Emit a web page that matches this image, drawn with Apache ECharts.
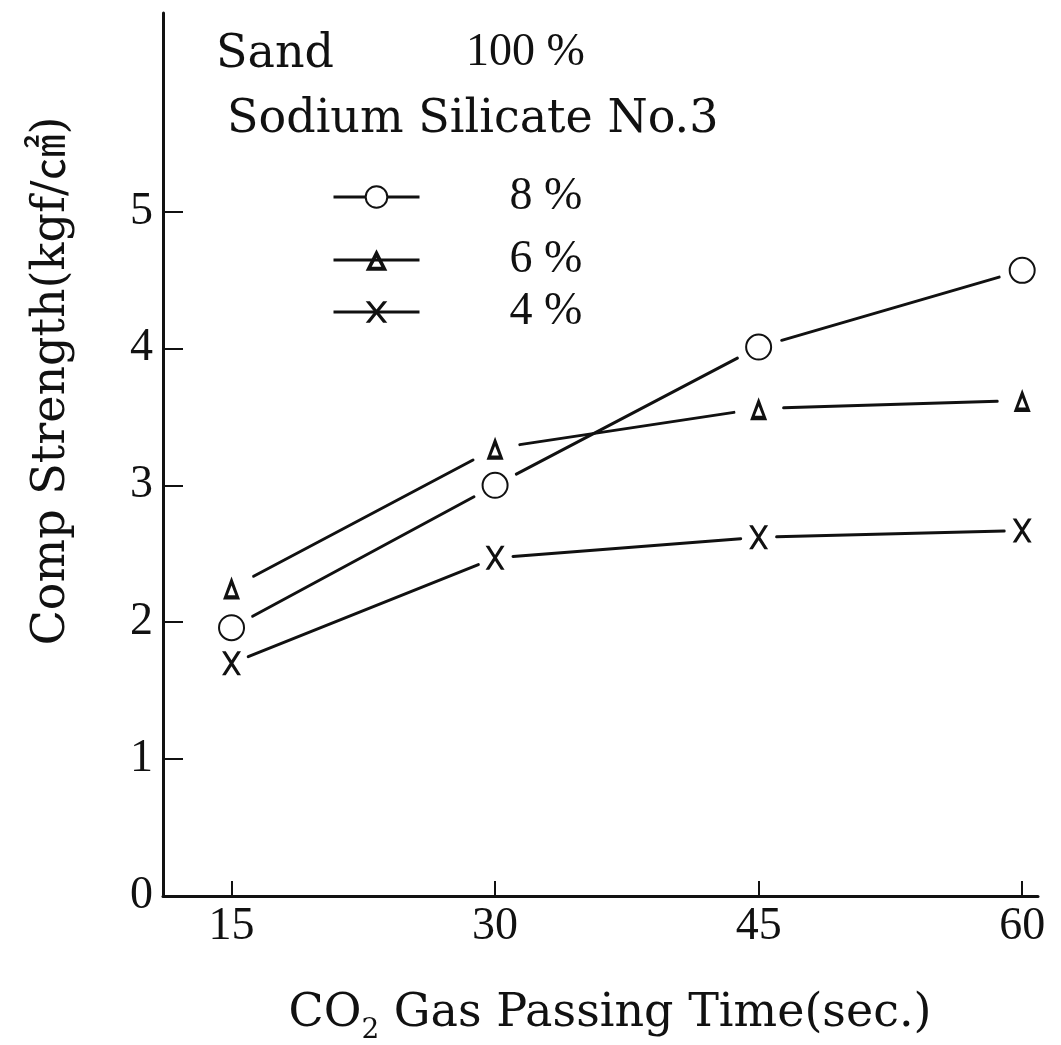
<!DOCTYPE html>
<html lang="en">
<head>
<meta charset="UTF-8">
<title>Comp Strength vs CO2 Gas Passing Time</title>
<script src="https://cdn.jsdelivr.net/npm/echarts@6/dist/echarts.min.js"></script>
<style>
  html, body { margin: 0; padding: 0; background: #fff; }
  #container { width: 1061px; height: 1045px; }
</style>
</head>
<body>
<div id="container"></div>
<script type="text/javascript">
    // data
    var times = [15, 30, 45, 60];
    var silicate8 = [1.96, 3.00, 4.01, 4.57];
    var silicate6 = [2.25, 3.27, 3.56, 3.62];
    var silicate4 = [1.70, 2.47, 2.62, 2.67];
    var seriesNames = ['8 %', '6 %', '4 %'];
    var xTicks = [15, 30, 45, 60];
    var yTicks = [0, 1, 2, 3, 4, 5];

    var INK = '#111';
    var wordFont = '46px "DejaVu Serif", "Noto Sans CJK JP", serif';
    var numFont = '46px "Liberation Serif", serif';

    // X and thick-outlined triangle drawn as filled polygons
    var crossPath = 'path://M0,0L3.5,0L9,9.1L14.5,0L18,0L10.75,12L18,24L14.5,24L9,14.9L3.5,24L0,24L7.25,12Z';
    var trianglePath = 'path://M9,0L18,24L0,24Z M9,9.5L5,19.5L13,19.5Z';

    var markers = [
        { symbol: 'emptyCircle', symbolSize: 25, itemStyle: { color: INK, borderColor: INK, borderWidth: 3 } },
        { symbol: trianglePath, symbolSize: [17, 23], itemStyle: { color: INK, borderWidth: 0 } },
        { symbol: crossPath, symbolSize: [19, 24], itemStyle: { color: INK, borderWidth: 0 } }
    ];
    // the connecting lines stop short of each marker
    var gapRadius = [24, 25, 18];
    var legendRowY = [197, 260, 312];

    function pairs(vals) {
        return times.map(function (t, i) { return [t, vals[i]]; });
    }
    var allData = [silicate8, silicate6, silicate4];

    // one segment from each point to the next, trimmed at both ends
    function segmentRenderer(vals, gap) {
        return function (params, api) {
            var i = params.dataIndex;
            if (i >= vals.length - 1) return null;
            var a = api.coord([times[i], vals[i]]);
            var b = api.coord([times[i + 1], vals[i + 1]]);
            var dx = b[0] - a[0], dy = b[1] - a[1];
            var len = Math.sqrt(dx * dx + dy * dy);
            var ux = dx / len, uy = dy / len;
            return {
                type: 'line',
                shape: { x1: a[0] + ux * gap, y1: a[1] + uy * gap, x2: b[0] - ux * gap, y2: b[1] - uy * gap },
                style: { stroke: INK, lineWidth: 3, lineCap: 'round' }
            };
        };
    }

    var series = [];
    allData.forEach(function (vals, i) {
        var m = markers[i];
        // markers only; the legend takes its icon from this one
        series.push({
            name: seriesNames[i], type: 'line', data: pairs(vals), z: 3,
            symbol: m.symbol, symbolSize: m.symbolSize, itemStyle: m.itemStyle,
            lineStyle: { color: INK, width: 0, opacity: 0 }, animation: false, silent: true
        });
        series.push({
            name: seriesNames[i] + ' line', type: 'custom', data: pairs(vals), z: 2,
            renderItem: segmentRenderer(vals, gapRadius[i]),
            animation: false, silent: true
        });
    });

    var dom = document.getElementById('container');
    var myChart = echarts.init(dom, null, { renderer: 'canvas' });

    var option = {
        backgroundColor: '#fff',
        animation: false,
        grid: { left: 163, right: 23, top: 13, bottom: 149, containLabel: false, outerBoundsMode: 'none' },
        xAxis: {
            type: 'value', min: 11.1, max: 60.9,
            axisLine: { show: true, lineStyle: { color: INK, width: 3 } },
            axisTick: { show: true, inside: true, length: 15, customValues: xTicks, lineStyle: { color: INK, width: 2 } },
            axisLabel: { customValues: xTicks, margin: 8, color: INK, fontFamily: 'Liberation Serif', fontSize: 46 },
            splitLine: { show: false }
        },
        yAxis: {
            type: 'value', min: 0, max: 6.45,
            axisLine: { show: true, lineStyle: { color: INK, width: 3 } },
            axisTick: { show: true, inside: true, length: 20, customValues: yTicks, lineStyle: { color: INK, width: 2 } },
            axisLabel: { customValues: yTicks, margin: 10, color: INK, fontFamily: 'Liberation Serif', fontSize: 46 },
            splitLine: { show: false }
        },
        legend: seriesNames.map(function (n, i) {
            return {
                data: [n], left: 332, top: legendRowY[i] - 23, orient: 'vertical', padding: 0,
                itemWidth: 86, itemHeight: 27, selectedMode: false,
                lineStyle: { color: INK, width: 3, opacity: 1 },
                textStyle: { fontFamily: 'Liberation Serif', fontSize: 46, lineHeight: 46, color: INK, padding: [0, 0, 0, 85] }
            };
        }),
        graphic: [
            { type: 'text', x: 216, y: 55, style: { text: 'Sand', font: wordFont, fill: INK, verticalAlign: 'middle', textVerticalAlign: 'middle' } },
            { type: 'text', x: 466, y: 53, style: { text: '100 %', font: numFont, fill: INK, verticalAlign: 'middle', textVerticalAlign: 'middle' } },
            { type: 'text', x: 227, y: 120, style: { text: 'Sodium Silicate No.3', font: wordFont, fill: INK, verticalAlign: 'middle', textVerticalAlign: 'middle' } },
            {
                type: 'text', x: 52, y: 381, rotation: Math.PI / 2,
                style: { text: 'Comp Strength(kgf/㎠)', font: wordFont, fill: INK, align: 'center', textAlign: 'center', verticalAlign: 'middle', textVerticalAlign: 'middle' }
            },
            {
                type: 'text', x: 610, y: 1014,
                style: {
                    text: '{a|CO}{b|2}{a| Gas Passing Time(sec.)}', fill: INK,
                    align: 'center', textAlign: 'center', verticalAlign: 'middle', textVerticalAlign: 'middle',
                    rich: {
                        a: { fontFamily: '"DejaVu Serif", serif', fontSize: 46, lineHeight: 62, color: INK },
                        b: { fontFamily: '"DejaVu Serif", serif', fontSize: 28, lineHeight: 28, verticalAlign: 'bottom', color: INK }
                    }
                }
            }
        ],
        series: series
    };

    myChart.setOption(option);
    window.addEventListener('resize', myChart.resize);
</script>
</body>
</html>
